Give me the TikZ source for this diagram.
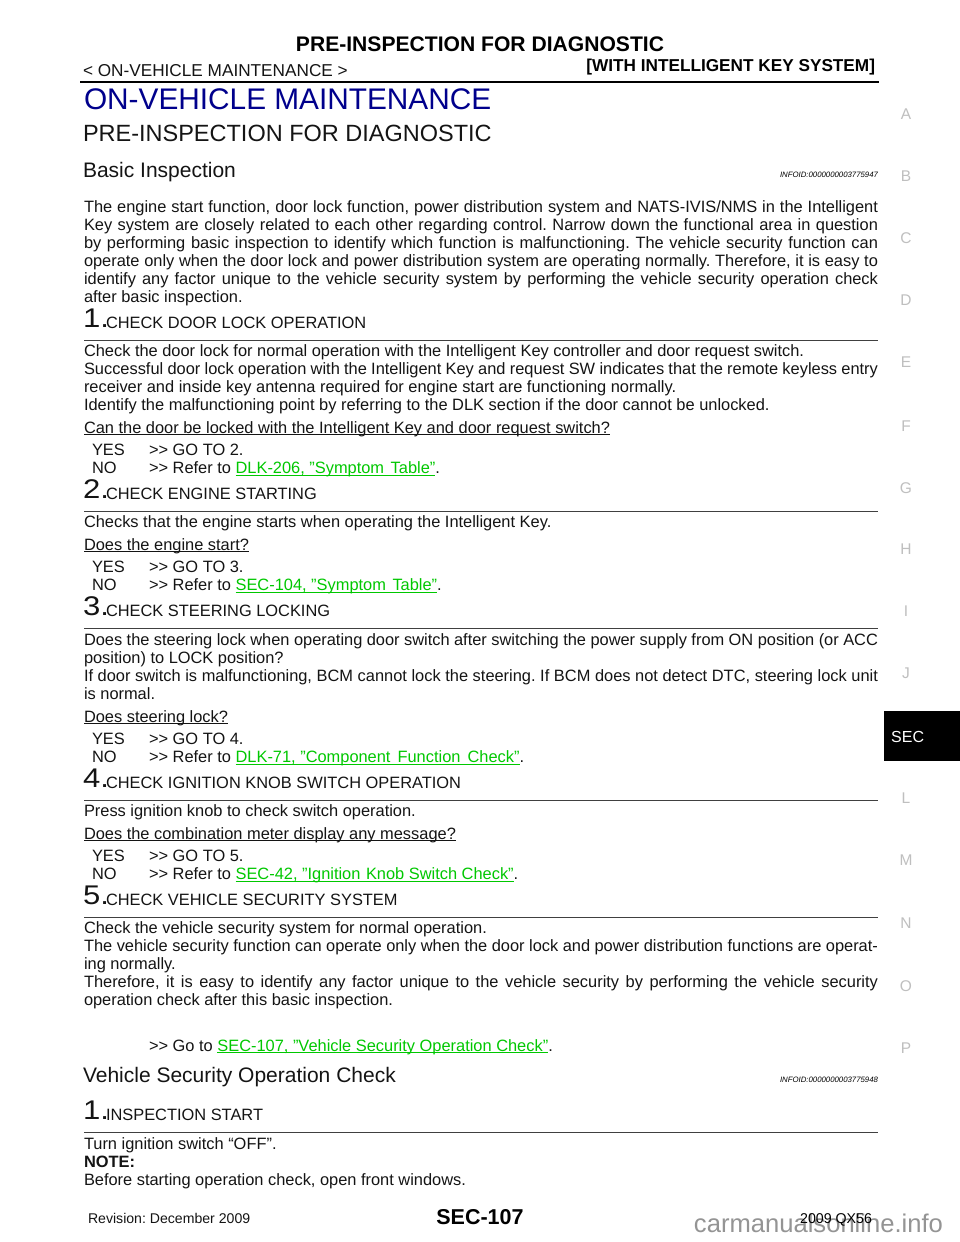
\documentclass[tikz,border=0pt]{standalone}
\usepackage{fontspec}
\setmainfont{Liberation Sans}
\definecolor{navy}{RGB}{0,0,140}
\definecolor{linkgreen}{RGB}{0,200,0}
\newcounter{tn}
\frenchspacing
\newcommand\fs[1]{\fontsize{#1}{#1}\selectfont}
\newcommand\ulbox[1]{\leavevmode\setbox0\hbox{#1}\rlap{\copy0}\rule[-2.4pt]{\wd0}{1pt}}
\newcommand\lnk[1]{\textcolor{linkgreen}{\ulbox{#1}}}
\newcommand\gt{>{}>}
\newcommand\T[3]{\stepcounter{tn}\node[txt] (t\thetn) at (#1,#2) {\frenchspacing #3};}
\newcommand\J[2]{\stepcounter{tn}\node[txt] (t\thetn) at (84,#1) {\frenchspacing\makebox[794pt][s]{#2}};}
\newcommand\Step[3]{\stepcounter{tn}\node[txt,xscale=1.15,transform shape] (t\thetn) at (83,#1-0.5) {\fs{27}#2.};\T{106}{#1}{#3}\coordinate (a\thetn) at (84,#1+12);\coordinate (b\thetn) at (878,#1+12);\draw[rulethin] (a\thetn) -- (b\thetn);}
\newcommand\Side[2]{\stepcounter{tn}\node[side] (t\thetn) at (906,#1) {#2};}
\tikzset{
 txt/.style={anchor=base west,inner sep=0pt,outer sep=0pt,font=\fontsize{16.4}{18}\selectfont,text=black!92},
 txtr/.style={anchor=base east,inner sep=0pt,outer sep=0pt},
 rulethin/.style={draw=black!75,line width=1pt},
 side/.style={anchor=center,inner sep=0pt,font=\fontsize{15.5}{16}\selectfont,text=black!25},
}
\begin{document}
\begin{tikzpicture}[x=1pt,y=-1pt]
\useasboundingbox (0,0) rectangle (960,1242);
\fill[white] (0,0) rectangle (960,1242);
% header
\node[anchor=base,inner sep=0pt,font=\fontsize{21.1}{22}\selectfont\bfseries] (title) at (480,51) {PRE-INSPECTION FOR DIAGNOSTIC};
\T{83}{76}{\fs{17.2}< ON-VEHICLE MAINTENANCE >}
\node[txtr,font=\fontsize{17.2}{18}\selectfont\bfseries] (sys) at (875,71) {[WITH INTELLIGENT KEY SYSTEM]};
\coordinate (hl) at (80,82);\coordinate (hr) at (879,82);
\draw[line width=2.6pt,black] (hl) -- (hr);
\T{84}{109}{\fs{29.8}\textcolor{navy}{ON-VEHICLE MAINTENANCE}}
\T{83}{141}{\fs{23.5}PRE-INSPECTION FOR DIAGNOSTIC}
\T{83}{177}{\fs{21}Basic Inspection}
\node[txtr,font=\fontsize{7.8}{9}\selectfont\itshape] (info1) at (878,177) {INFOID:0000000003775947};
% intro
\J{212}{The engine start function, door lock function, power distribution system and NATS-IVIS/NMS in the Intelligent}
\J{230}{Key system are closely related to each other regarding control. Narrow down the functional area in question}
\J{248}{by performing basic inspection to identify which function is malfunctioning. The vehicle security function can}
\J{266}{operate only when the door lock and power distribution system are operating normally. Therefore, it is easy to}
\J{284}{identify any factor unique to the vehicle security system by performing the vehicle security operation check}
\T{84}{302}{after basic inspection.}
% step 1
\Step{328}{1}{CHECK DOOR LOCK OPERATION}
\T{84}{356}{Check the door lock for normal operation with the Intelligent Key controller and door request switch.}
\J{374}{Successful door lock operation with the Intelligent Key and request SW indicates that the remote keyless entry}
\T{84}{392}{receiver and inside key antenna required for engine start are functioning normally.}
\T{84}{410}{Identify the malfunctioning point by referring to the DLK section if the door cannot be unlocked.}
\T{84}{433}{\ulbox{Can the door be locked with the Intelligent Key and door request switch?}}
\T{92}{455.5}{YES}\T{149}{455.5}{\gt{} GO TO 2.}
\T{92}{473.5}{NO}\T{149}{473.5}{\gt{} Refer to \lnk{DLK-206, "Symptom\kern2pt{} Table"}.}
% step 2
\Step{499}{2}{CHECK ENGINE STARTING}
\T{84}{527}{Checks that the engine starts when operating the Intelligent Key.}
\T{84}{550}{\ulbox{Does the engine start?}}
\T{92}{572.5}{YES}\T{149}{572.5}{\gt{} GO TO 3.}
\T{92}{590.5}{NO}\T{149}{590.5}{\gt{} Refer to \lnk{SEC-104, "Symptom\kern2pt{} Table"}.}
% step 3
\Step{616}{3}{CHECK STEERING LOCKING}
\J{645}{Does the steering lock when operating door switch after switching the power supply from ON position (or ACC}
\T{84}{663}{position) to LOCK position?}
\J{681}{If door switch is malfunctioning, BCM cannot lock the steering. If BCM does not detect DTC, steering lock unit}
\T{84}{699}{is normal.}
\T{84}{722}{\ulbox{Does steering lock?}}
\T{92}{744.5}{YES}\T{149}{744.5}{\gt{} GO TO 4.}
\T{92}{762.5}{NO}\T{149}{762.5}{\gt{} Refer to \lnk{DLK-71, "Component\kern2.5pt{} Function\kern2.5pt{} Check"}.}
% step 4
\Step{788}{4}{CHECK IGNITION KNOB SWITCH OPERATION}
\T{84}{816.5}{Press ignition knob to check switch operation.}
\T{84}{839}{\ulbox{Does the combination meter display any message?}}
\T{92}{861.5}{YES}\T{149}{861.5}{\gt{} GO TO 5.}
\T{92}{879.5}{NO}\T{149}{879.5}{\gt{} Refer to \lnk{SEC-42, "Ignition\kern1pt{} Knob Switch Check"}.}
% step 5
\Step{905}{5}{CHECK VEHICLE SECURITY SYSTEM}
\T{84}{933.5}{Check the vehicle security system for normal operation.}
\J{951.5}{The vehicle security function can operate only when the door lock and power distribution functions are operat-}
\T{84}{969.5}{ing normally.}
\J{987.5}{Therefore, it is easy to identify any factor unique to the vehicle security by performing the vehicle security}
\T{84}{1005.5}{operation check after this basic inspection.}
\T{149}{1051}{\gt{} Go to \lnk{SEC-107, "Vehicle Security Operation Check"}.}
% section 2
\T{83}{1082}{\fs{21}Vehicle Security Operation Check}
\node[txtr,font=\fontsize{7.8}{9}\selectfont\itshape] (info2) at (878,1082) {INFOID:0000000003775948};
\Step{1120}{1}{INSPECTION START}
\T{84}{1149}{Turn ignition switch “OFF”.}
\T{84}{1167}{\bfseries NOTE:}
\T{84}{1185}{Before starting operation check, open front windows.}
% footer
\T{88}{1223}{\fs{14.1}Revision: December 2009}
\node[anchor=base,inner sep=0pt,font=\fontsize{21.5}{22}\selectfont\bfseries] (page) at (480,1224) {SEC-107};
\node[txtr,font=\fontsize{25.6}{26}\selectfont,text=black!42] (wm) at (943,1232) {carmanualsonline.info};
\node[txtr,font=\fontsize{14.2}{15}\selectfont] (model) at (872,1223) {2009 QX56};
% side tabs
\Side{114.5}{A}\Side{176.5}{B}\Side{238.5}{C}\Side{300.5}{D}\Side{362.5}{E}\Side{426.5}{F}\Side{488.5}{G}\Side{549.5}{H}\Side{611.5}{I}\Side{673.5}{J}\Side{798.5}{L}\Side{860.5}{M}\Side{923.5}{N}\Side{986.5}{O}\Side{1048.5}{P}
\fill[black] (884,711) rectangle (960,761);
\node[anchor=base west,inner sep=0pt,font=\fontsize{16}{18}\selectfont,text=white] (sec) at (891,742) {SEC};
\end{tikzpicture}
\end{document}
